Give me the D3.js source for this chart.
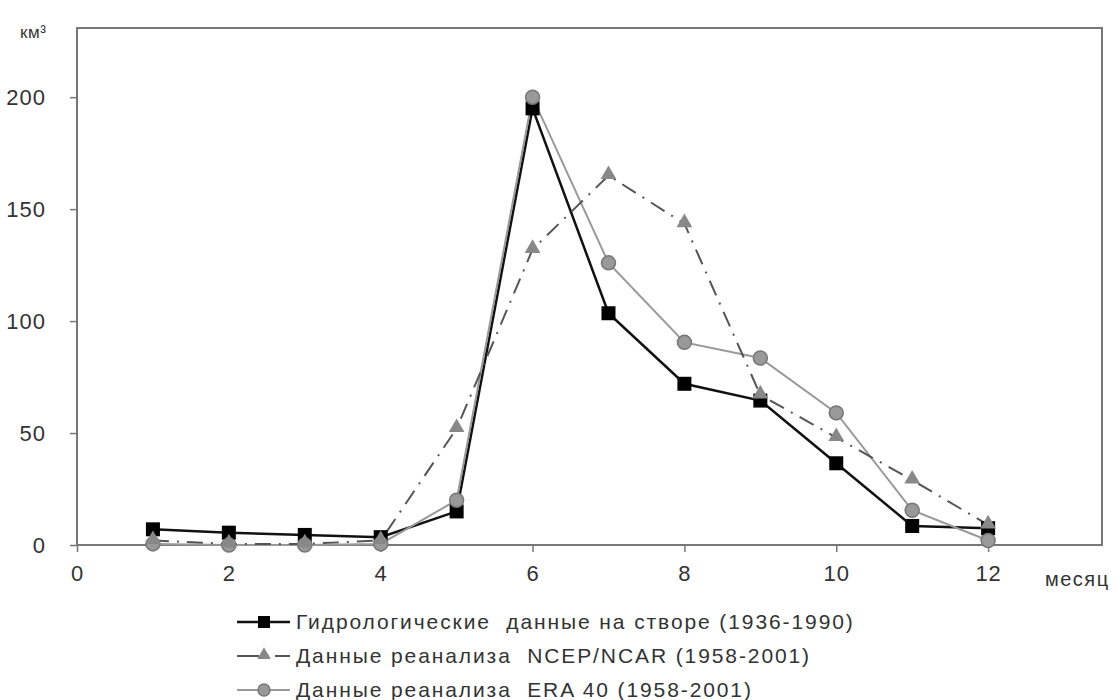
<!DOCTYPE html>
<html>
<head>
<meta charset="utf-8">
<script src="https://cdn.jsdelivr.net/npm/d3@7"></script>
<style>
  body { margin: 0; background: #fff; }
  text { font-family: "Liberation Sans", Arial, sans-serif; fill: #333; white-space: pre; }
</style>
</head>
<body>
<div class="chart"></div>
<script>
const months = [1, 2, 3, 4, 5, 6, 7, 8, 9, 10, 11, 12];
const hydro = [7, 5.5, 4.5, 3.5, 15, 195, 103.5, 72, 64.5, 36.5, 8.5, 7.5];
const ncep = [2, 0.5, 0.5, 2, 52, 132, 165, 143.5, 67, 48, 29, 9];
const era = [0.5, 0, 0, 0.5, 20, 200, 126, 90.5, 83.5, 59, 15.5, 2];
const xTicks = [0, 2, 4, 6, 8, 10, 12];
const yTicks = [0, 50, 100, 150, 200];
const legendLabels = [
    'Гидрологические  данные на створе (1936-1990)',
    'Данные реанализа  NCEP/NCAR (1958-2001)',
    'Данные реанализа  ERA 40 (1958-2001)'
];

const width = 1118;
const height = 700;
const svg = d3.select('.chart')
    .append('svg')
    .attr('width', width)
    .attr('height', height)

const x = d3.scaleLinear().domain([0, 13.5]).range([77, 1102]);
const y = d3.scaleLinear().domain([0, 230]).range([545, 30]);

// frame
svg.append('rect')
    .attr('x', x(0))
    .attr('y', y(230) - 2)
    .attr('width', x(13.5) - x(0))
    .attr('height', y(0) - y(230) + 2)
    .attr('fill', 'none')
    .attr('stroke', '#777')
    .attr('stroke-width', 2)

const xAxis = svg.append('g')
    .attr('transform', `translate(0,${y(0)})`)
    .call(d3.axisBottom(x).tickValues(xTicks).tickSize(7).tickPadding(13))
xAxis.select('.domain').remove()
xAxis.selectAll('line').attr('stroke', '#777').attr('stroke-width', 1.5)
xAxis.selectAll('text').attr('font-size', 22).attr('letter-spacing', 1).attr('fill', '#444')

const yAxis = svg.append('g')
    .attr('transform', `translate(${x(0)},0)`)
    .call(d3.axisLeft(y).tickValues(yTicks).tickSize(7).tickPadding(24))
yAxis.select('.domain').remove()
yAxis.selectAll('line').attr('stroke', '#777').attr('stroke-width', 1.5)
yAxis.selectAll('text').attr('font-size', 22).attr('letter-spacing', 1).attr('fill', '#444')

svg.append('text')
    .attr('x', 20)
    .attr('y', 38)
    .attr('font-size', 17)
    .attr('letter-spacing', 0.5)
    .attr('fill', '#444')
    .text('км³')

svg.append('text')
    .attr('x', 1045)
    .attr('y', 586)
    .attr('font-size', 20)
    .attr('letter-spacing', 1.5)
    .attr('fill', '#444')
    .text('месяц')

const line = d3.line()
    .x((d, i) => x(months[i]))
    .y(d => y(d))

const series = [
    { values: hydro, stroke: '#111', width: 2.5, dash: null, marker: 'square' },
    { values: era, stroke: '#999', width: 2, dash: null, marker: 'circle' },
    { values: ncep, stroke: '#555', width: 2, dash: '16,8,2,8', marker: 'triangle' }
];

function drawMarker(g, type, cx, cy, r) {
    if (type === 'square') {
        g.append('rect')
            .attr('x', cx - r).attr('y', cy - r)
            .attr('width', 2 * r).attr('height', 2 * r)
            .attr('fill', '#000')
    } else if (type === 'circle') {
        g.append('circle')
            .attr('cx', cx).attr('cy', cy).attr('r', r)
            .attr('fill', '#999').attr('stroke', '#777').attr('stroke-width', 1.5)
    } else {
        g.append('path')
            .attr('d', d3.symbol(d3.symbolTriangle, r * r * 2.2)())
            .attr('transform', `translate(${cx},${cy - 1})`)
            .attr('fill', '#888')
    }
}

series.forEach(s => {
    svg.append('path')
        .datum(s.values)
        .attr('d', line)
        .attr('fill', 'none')
        .attr('stroke', s.stroke)
        .attr('stroke-width', s.width)
        .attr('stroke-dasharray', s.dash)
})

series.forEach(s => {
    const g = svg.append('g')
    s.values.forEach((v, i) => {
        drawMarker(g, s.marker, x(months[i]), y(v), 7);
    })
})

// legend
const legendOrder = [series[0], series[2], series[1]];
legendOrder.forEach((s, i) => {
    const ly = 622 + i * 34;
    const g = svg.append('g')
    g.append('line')
        .attr('x1', 237).attr('x2', 290)
        .attr('y1', ly).attr('y2', ly)
        .attr('stroke', s.stroke)
        .attr('stroke-width', s.width)
        .attr('stroke-dasharray', s.dash ? '22,6,4,6' : null)
    drawMarker(g, s.marker, 264, ly, 6)
    g.append('text')
        .attr('x', 296)
        .attr('y', ly + 7)
        .attr('font-size', 21)
        .attr('letter-spacing', 1.9)
        .attr('fill', '#333')
        .text(legendLabels[i])
})
</script>
</body>
</html>
